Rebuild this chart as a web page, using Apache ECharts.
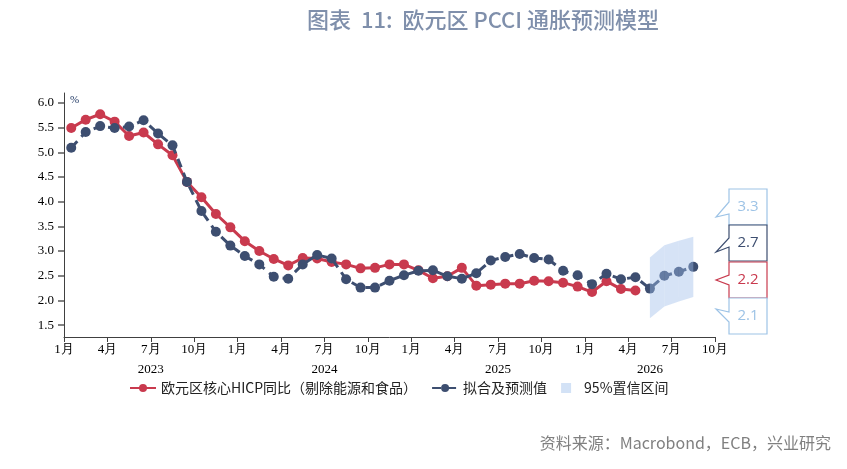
<!DOCTYPE html>
<html>
<head>
<meta charset="utf-8">
<script src="https://cdn.jsdelivr.net/npm/echarts@6/dist/echarts.min.js"></script>
<style>
  html, body { margin: 0; padding: 0; background: #fff; }
  #chart { width: 847px; height: 469px; }
</style>
</head>
<body>
<div id="chart"></div>
<script>
// month index 0 = Jan 2023, points sit mid-month
var monthLabels = ['1月', '4月', '7月', '10月'];
var yearLabels = ['2023', '2024', '2025', '2026'];

var coreHicp = [
  5.49, 5.66, 5.77, 5.62, 5.33, 5.40, 5.16, 4.94, 4.40, 4.09, 3.75, 3.48,
  3.20, 3.00, 2.84, 2.71, 2.86, 2.85, 2.78, 2.73, 2.65, 2.66, 2.73, 2.73,
  2.61, 2.45, 2.49, 2.66, 2.30, 2.32, 2.34, 2.34, 2.40, 2.39, 2.36, 2.28,
  2.17, 2.39, 2.23, 2.20
];
var fitted = [
  5.09, 5.41, 5.53, 5.49, 5.52, 5.65, 5.38, 5.14, 4.40, 3.81, 3.39, 3.11,
  2.90, 2.73, 2.48, 2.44, 2.73, 2.92, 2.85, 2.43, 2.26, 2.26, 2.40, 2.51,
  2.60, 2.61, 2.49, 2.44, 2.55, 2.81, 2.88, 2.94, 2.86, 2.83, 2.60, 2.51,
  2.33, 2.54, 2.43, 2.47, 2.24, 2.50, 2.58, 2.68
];
var ciStart = 40; // May 2026
var ciLower = [1.64, 1.88, 1.98, 2.07];
var ciUpper = [2.87, 3.12, 3.21, 3.29];

var axisMonths = 45; // Jan 2023 .. Oct 2026
var yTicks = [1.5, 2.0, 2.5, 3.0, 3.5, 4.0, 4.5, 5.0, 5.5, 6.0];

var RED = '#c93a4e';
var NAVY = '#3d4e70';
var BAND = '#9dbde9';
var BAND_LEGEND = '#d3e2f6';
var LIGHT = '#9dc3e6';

function toPairs(arr, start) {
  return arr.map(function (v, i) { return [start + i + 0.5, v]; });
}

var bandData = ciLower.map(function (lo, i) { return [ciStart + i + 0.5, lo, ciUpper[i]]; });

var yearCenters = yearLabels.map(function (y, i) {
  return (i * 12 + Math.min(i * 12 + 12, axisMonths)) / 2;
});

// callouts on the right: upper, fitted, actual, lower
var callouts = [
  { text: ciUpper[ciUpper.length - 1].toFixed(1), color: LIGHT, y0: 189, a: 202, tip: 217, b: 214 },
  { text: fitted[fitted.length - 1].toFixed(1), color: NAVY, y0: 225, a: 238, tip: 252, b: 247 },
  { text: coreHicp[coreHicp.length - 1].toFixed(1), color: RED, y0: 262, a: 275, tip: 280, b: 285 },
  { text: ciLower[ciLower.length - 1].toFixed(1), color: LIGHT, y0: 298, a: 312, tip: 309, b: 322 }
];
var calloutGraphics = [];
callouts.forEach(function (c) {
  var x0 = 729, x1 = 767, y1 = c.y0 + 36;
  calloutGraphics.push({
    type: 'polygon',
    shape: { points: [[x0, c.y0], [x1, c.y0], [x1, y1], [x0, y1], [x0, c.b], [716, c.tip], [x0, c.a]] },
    style: { fill: '#fff', stroke: c.color, lineWidth: 1.2 }
  });
  calloutGraphics.push({
    type: 'text',
    x: 748, y: c.y0 + 18,
    style: { text: c.text, fill: c.color, font: '15px "Open Sans", sans-serif', textAlign: 'center', textVerticalAlign: 'middle' }
  });
});

// band drawn as one quad per month step
function renderBand(params, api) {
  var i = params.dataIndex;
  if (i >= bandData.length - 1) return null;
  var a = bandData[i], b = bandData[i + 1];
  var pts = [
    api.coord([a[0], a[2]]), api.coord([b[0], b[2]]),
    api.coord([b[0], b[1]]), api.coord([a[0], a[1]])
  ];
  return {
    type: 'polygon',
    shape: { points: pts },
    style: { fill: BAND, opacity: 0.42 }
  };
}

var chart = echarts.init(document.getElementById('chart'));
var option = {
  animation: false,
  title: {
    text: '图表  11:  欧元区 PCCI 通胀预测模型',
    left: 302, top: 4,
    textStyle: { color: '#7f8fab', fontSize: 22, fontWeight: 500, fontFamily: 'Noto Sans CJK SC' }
  },
  grid: { left: 64, right: 132, top: 93, bottom: 132 },
  legend: {
    top: 376,
    left: 124,
    itemWidth: 26,
    itemHeight: 10,
    itemGap: 14,
    textStyle: { fontSize: 14, color: '#222', fontFamily: 'Noto Sans CJK SC' },
    data: [
      { name: '欧元区核心HICP同比（剔除能源和食品）' },
      { name: '拟合及预测值' },
      { name: '95%置信区间', icon: 'path://M0,0L10,0L10,10L0,10Z', itemStyle: { color: BAND_LEGEND } }
    ]
  },
  xAxis: [
    {
      type: 'value', min: 0, max: axisMonths, interval: 3,
      axisLine: { lineStyle: { color: '#404040', width: 1 } },
      axisTick: { inside: false, length: 5, lineStyle: { color: '#404040' } },
      axisLabel: {
        color: '#000', fontSize: 13, fontFamily: 'Liberation Serif', margin: 6,
        formatter: function (v) { return monthLabels[(v / 3) % 4]; }
      },
      splitLine: { show: false }
    },
    {
      type: 'value', min: 0, max: axisMonths, position: 'bottom', offset: 20,
      axisLine: { show: false }, axisTick: { show: false }, splitLine: { show: false },
      axisLabel: {
        color: '#000', fontSize: 13, fontFamily: 'Liberation Serif', margin: 6,
        customValues: yearCenters,
        formatter: function (v) { return yearLabels[yearCenters.indexOf(v)]; }
      }
    }
  ],
  yAxis: {
    type: 'value', min: 1.26, max: 6.2,
    axisLine: { show: true, lineStyle: { color: '#404040' } },
    axisTick: { show: true, inside: false, length: 6, customValues: yTicks, lineStyle: { color: '#595959', width: 1.5 } },
    axisLabel: {
      color: '#000', fontSize: 13, fontFamily: 'Liberation Serif', margin: 10,
      customValues: yTicks,
      formatter: function (v) { return v.toFixed(1); }
    },
    splitLine: { show: false }
  },
  graphic: [
    { type: 'text', x: 70, y: 95, style: { text: '%', fill: '#1f3864', font: '11px "Liberation Serif"' } },
    {
      type: 'text', right: 16, top: 435,
      style: { text: '资料来源：Macrobond，ECB，兴业研究', fill: '#808080', font: '16px "Noto Sans CJK SC"' }
    }
  ].concat(calloutGraphics),
  series: [
    {
      name: '欧元区核心HICP同比（剔除能源和食品）',
      type: 'line', z: 2,
      data: toPairs(coreHicp, 0),
      symbol: 'circle', symbolSize: 10,
      lineStyle: { color: RED, width: 3 },
      itemStyle: { color: RED }
    },
    {
      name: '拟合及预测值',
      type: 'line', z: 3,
      data: toPairs(fitted, 0),
      symbol: 'circle', symbolSize: 10,
      lineStyle: { color: NAVY, width: 3, type: [9, 6] },
      itemStyle: { color: NAVY }
    },
    {
      name: '95%置信区间',
      type: 'custom', z: 4, silent: true,
      renderItem: renderBand,
      itemStyle: { color: BAND_LEGEND },
      encode: { x: 0, y: [1, 2] },
      data: bandData
    }
  ]
};
chart.setOption(option);
</script>
</body>
</html>
